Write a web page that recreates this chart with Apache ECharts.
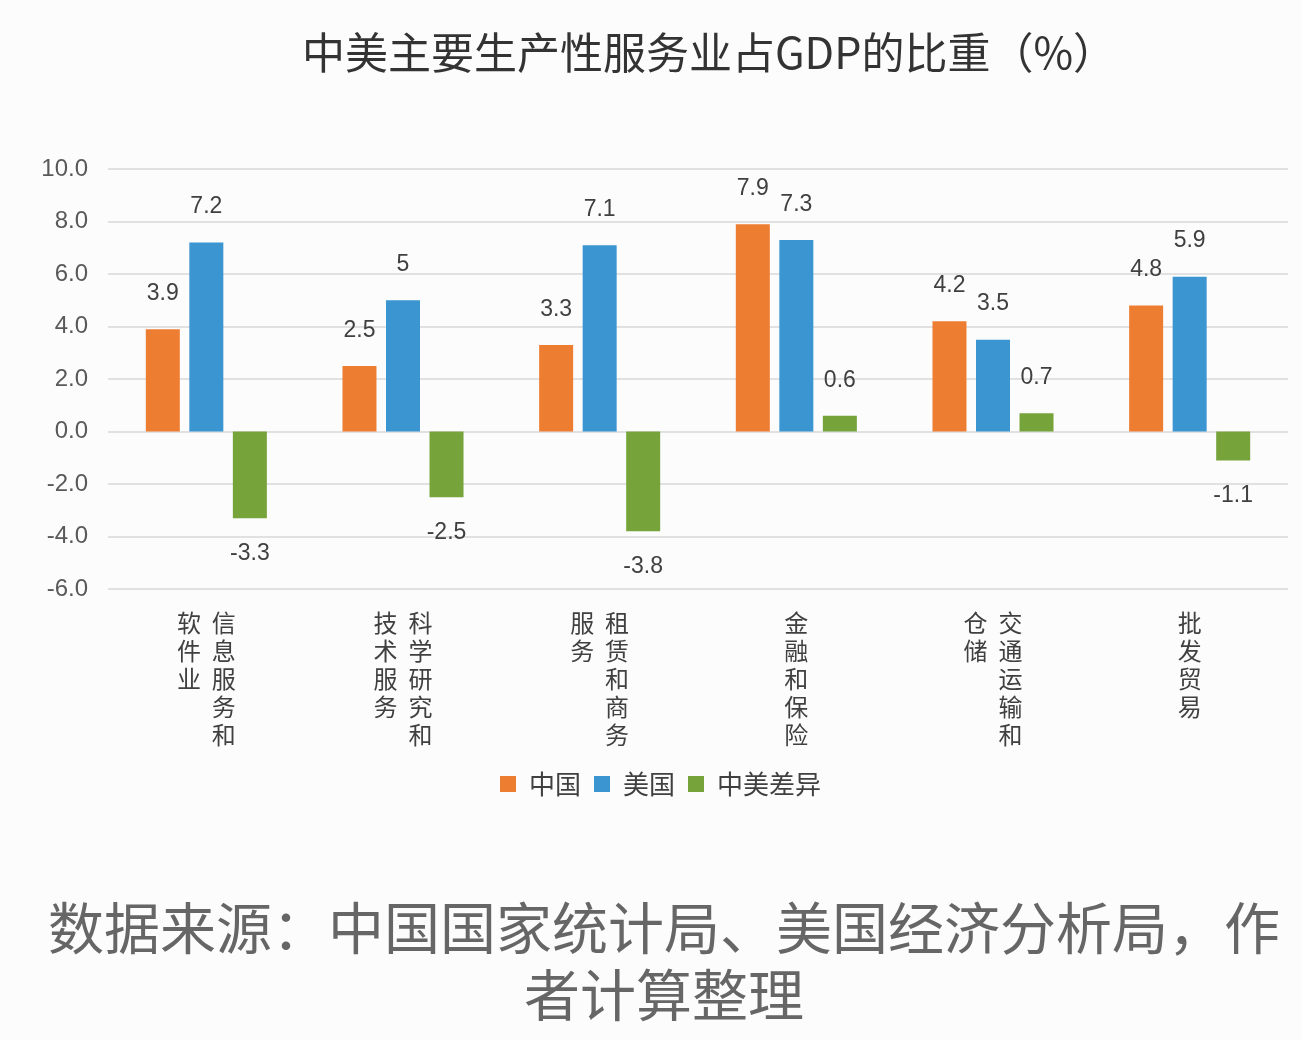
<!DOCTYPE html>
<html>
<head>
<meta charset="utf-8">
<script src="https://cdn.jsdelivr.net/npm/echarts@6/dist/echarts.min.js"></script>
<style>
html,body{margin:0;padding:0;background:#fcfcfd;}
#chart{width:1302px;height:1040px;}
</style>
</head>
<body>
<div id="chart"></div>
<script>
const titleText = '中美主要生产性服务业占GDP的比重（%）';
const sourceText = '数据来源：中国国家统计局、美国经济分析局，作\n者计算整理';
const categories = ['信息服务和软件业', '科学研究和技术服务', '租赁和商务服务', '金融和保险', '交通运输和仓储', '批发贸易'];
const seriesNames = ['中国', '美国', '中美差异'];
const chinaValues = [3.9, 2.5, 3.3, 7.9, 4.2, 4.8];
const usValues = [7.2, 5, 7.1, 7.3, 3.5, 5.9];
const diffValues = [-3.3, -2.5, -3.8, 0.6, 0.7, -1.1];
const yTicks = [-6, -4, -2, 0, 2, 4, 6, 8, 10];

const colors = ['#ED7D31', '#3A95D1', '#76A33A'];
const numFont = '"Liberation Sans", Arial, "Noto Sans CJK SC", sans-serif';
const cjkFont = '"Noto Sans CJK SC", sans-serif';

function verticalLabel(name) {
  const chunks = [];
  for (let i = 0; i < name.length; i += 5) chunks.push(name.slice(i, i + 5));
  const cols = chunks.slice().reverse(); // rightmost column is read first
  const rows = Math.max(...chunks.map(c => c.length));
  const lines = [];
  for (let r = 0; r < rows; r++) {
    lines.push(cols.map(c => c[r] || '\u3000').join('  '));
  }
  return lines.join('\n');
}

function mkData(vals) {
  return vals.map(v => ({
    value: v,
    label: { position: v < 0 ? 'bottom' : 'top' }
  }));
}

const chart = echarts.init(document.getElementById('chart'));
const option = {
  backgroundColor: '#fcfcfd',
  animation: false,
  title: [
    {
      text: titleText,
      left: 704, top: 26, textAlign: 'center',
      textStyle: { fontFamily: cjkFont, fontSize: 43, fontWeight: 'normal', color: '#333' }
    },
    {
      text: sourceText,
      left: 659, top: 889, textAlign: 'center',
      textStyle: { fontFamily: cjkFont, fontSize: 56, fontWeight: 'normal', color: '#666', lineHeight: 67 }
    }
  ],
  legend: {
    data: seriesNames,
    left: 495, top: 766,
    icon: 'rect', itemWidth: 16, itemHeight: 16, itemGap: 13,
    textStyle: { fontFamily: cjkFont, fontSize: 26, color: '#404040', padding: [0, 0, 0, 8] }
  },
  grid: { left: 108, right: 14, top: 169, bottom: 451, containLabel: false },
  xAxis: {
    type: 'category',
    data: categories,
    axisLine: { show: false, onZero: false },
    axisTick: { show: false },
    axisLabel: {
      interval: 0,
      margin: 20,
      fontFamily: cjkFont, fontSize: 24, lineHeight: 28, color: '#404040',
      formatter: verticalLabel
    }
  },
  yAxis: {
    type: 'value',
    min: yTicks[0], max: yTicks[yTicks.length - 1], interval: 2,
    axisLine: { show: false },
    axisTick: { show: false },
    splitLine: { lineStyle: { color: '#d9d9d9', width: 1.5 } },
    axisLabel: {
      margin: 20,
      fontFamily: numFont, fontSize: 24, color: '#595959',
      formatter: v => v.toFixed(1)
    }
  },
  series: [chinaValues, usValues, diffValues].map((vals, i) => ({
    name: seriesNames[i],
    type: 'bar',
    data: mkData(vals),
    barWidth: 34,
    barGap: '28%',
    itemStyle: { color: colors[i] },
    label: {
      show: true, distance: 24,
      fontFamily: numFont, fontSize: 23, color: '#404040'
    }
  }))
};
chart.setOption(option);
</script>
</body>
</html>
